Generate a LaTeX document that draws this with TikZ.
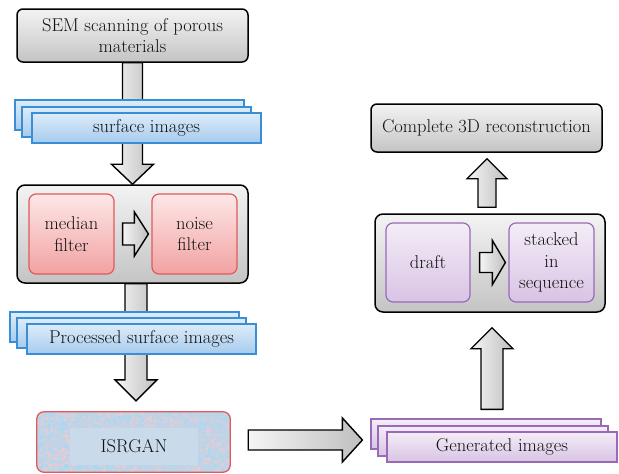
\documentclass[tikz,border=0pt]{standalone}
\usepackage{fontspec}
\usetikzlibrary{calc}

\definecolor{txtgray}{HTML}{111111}
\definecolor{grayTop}{HTML}{F3F3F3}
\definecolor{grayBot}{HTML}{C4C4C4}
\definecolor{blueTop}{HTML}{DDECF9}
\definecolor{blueBot}{HTML}{A6CBEE}
\definecolor{blueLine}{HTML}{3A8ED6}
\definecolor{redTop}{HTML}{FDE7E7}
\definecolor{redBot}{HTML}{F2A2A2}
\definecolor{redLine}{HTML}{E05A5A}
\definecolor{purpTop}{HTML}{F4EDF7}
\definecolor{purpBot}{HTML}{D8C3E4}
\definecolor{purpLine}{HTML}{9A6AB8}
\definecolor{isrFill}{HTML}{C3D3E6}
\definecolor{isrInner}{HTML}{C9DAEA}

% block arrow: start, tip, shaft half width, head half width, head length
\newcommand{\blockarrow}[5]{%
  \coordinate (ba-h) at ($(#2)!#5!(#1)$);
  \draw[arrowblk] ($(#1)!#3!90:(#2)$) -- ($(ba-h)!#3!90:(#2)$)
    -- ($(ba-h)!#4!90:(#2)$) -- (#2) -- ($(ba-h)!#4!-90:(#2)$)
    -- ($(ba-h)!#3!-90:(#2)$) -- ($(#1)!#3!-90:(#2)$) -- cycle;
}

\tikzset{
  txt/.style={text=txtgray, font=\fontsize{18.5}{21.5}\selectfont, align=center,
    inner sep=0pt},
  graybox/.style={txt, draw=black, line width=1.5pt, rounded corners=6pt,
    top color=grayTop, bottom color=grayBot},
  redbox/.style={txt, draw=redLine, line width=1.2pt, rounded corners=7pt,
    top color=redTop, bottom color=redBot},
  purpbox/.style={txt, draw=purpLine, line width=1.2pt, rounded corners=7pt,
    top color=purpTop, bottom color=purpBot},
  bluelayer/.style={txt, draw=blueLine, line width=1.2pt,
    top color=blueTop, bottom color=blueBot, minimum width=229pt, minimum height=30pt},
  purplayer/.style={txt, draw=purpLine, line width=1.2pt,
    top color=purpTop, bottom color=purpBot, minimum width=230pt, minimum height=30pt},
  arrowblk/.style={draw=black, line width=1.4pt, line join=miter,
    left color=white!92!gray, right color=gray!50},
}

\begin{document}
\begin{tikzpicture}[x=1pt,y=-1pt]
  \useasboundingbox (0,0) rectangle (619,474);

  % left column
  \node[graybox, minimum width=231pt, minimum height=53pt] (sem) at (132.5,35.5)
    {SEM scanning of porous\\materials};
  \node[graybox, rounded corners=8pt, minimum width=231pt, minimum height=98pt] (filt) at (132.5,234) {};
  \node[redbox, minimum width=85pt, minimum height=80pt] (median) at (71.5,234) {median\\filter};
  \node[redbox, minimum width=85pt, minimum height=80pt] (noise) at (194.5,234) {noise\\filter};

  \blockarrow{sem.south}{filt.north}{10pt}{21pt}{20pt}
  \coordinate (fa-s) at ($(median.east)+(8,0)$);
  \coordinate (fa-e) at ($(noise.west)+(-3,0)$);
  \blockarrow{fa-s}{fa-e}{11pt}{22pt}{14pt}

  \node[bluelayer] (surf3) at (129.5,115) {};
  \node[bluelayer] (surf2) at (136.5,122) {};
  \node[bluelayer] (surf1) at (146.5,128) {surface images};

  % ISRGAN with noisy fill
  \node[txt, fill=isrFill, rounded corners=7pt, minimum width=193pt, minimum height=60pt] (isr) at (133.5,442) {};
  \begin{scope}
    \clip[rounded corners=7pt] (isr.north west) rectangle (isr.south east);
    \pgfmathsetseed{7}
    \foreach \i in {1,...,700} {
      \pgfmathsetmacro\px{37+193*rnd}
      \pgfmathsetmacro\py{412+60*rnd}
      \fill[pink!85!white, opacity=0.5] (\px,\py) circle (1.6pt);
    }
    \foreach \i in {1,...,700} {
      \pgfmathsetmacro\px{37+193*rnd}
      \pgfmathsetmacro\py{412+60*rnd}
      \fill[cyan!40!white, opacity=0.5] (\px,\py) circle (1.6pt);
    }
  \end{scope}
  \draw[redLine, line width=1.3pt, rounded corners=7pt] (isr.north west) rectangle (isr.south east);
  \node[txt, fill=isrInner, minimum width=128pt, minimum height=37pt] (isrin) at (134,446.5) {ISRGAN};

  \coordinate (pa-s) at ($(filt.south)+(3.5,0)$);
  \coordinate (pa-e) at ($(isr.north)+(2.5,-11)$);
  \blockarrow{pa-s}{pa-e}{11pt}{21pt}{21pt}

  \node[bluelayer] (proc3) at (124.5,327) {};
  \node[bluelayer] (proc2) at (131.5,333) {};
  \node[bluelayer] (proc1) at (141.5,339) {Processed surface images};

  % right column
  \node[purplayer] (gen3) at (486,434) {};
  \node[purplayer] (gen2) at (493,441) {};
  \node[purplayer] (gen1) at (502,447) {Generated images};

  \coordinate (ha-s) at ($(isr.east)+(18,-2)$);
  \coordinate (ha-e) at ($(gen3.west)+(-8,6)$);
  \blockarrow{ha-s}{ha-e}{10pt}{22pt}{20pt}

  \node[graybox, rounded corners=8pt, minimum width=230pt, minimum height=98pt] (stack) at (490,263) {};
  \node[purpbox, minimum width=84pt, minimum height=79pt] (draft) at (428,262.5) {draft};
  \node[purpbox, minimum width=85pt, minimum height=79pt] (seq) at (551.5,262.5) {stacked\\in\\sequence};
  \coordinate (sa-s) at ($(draft.east)+(9,0)$);
  \coordinate (sa-e) at ($(seq.west)+(-3,0)$);
  \blockarrow{sa-s}{sa-e}{10pt}{22pt}{13pt}

  \coordinate (ua-s) at ($(gen3.north)+(6,-9)$);
  \coordinate (ua-e) at ($(stack.south)+(2,15)$);
  \blockarrow{ua-s}{ua-e}{11pt}{21pt}{21pt}

  \node[graybox, minimum width=231pt, minimum height=48pt] (full) at (486.5,128)
    {Complete 3D reconstruction};
  \coordinate (ca-s) at ($(stack.north)+(-3,-6)$);
  \coordinate (ca-e) at ($(full.south)+(0.5,6)$);
  \blockarrow{ca-s}{ca-e}{9pt}{20pt}{20pt}
\end{tikzpicture}
\end{document}
